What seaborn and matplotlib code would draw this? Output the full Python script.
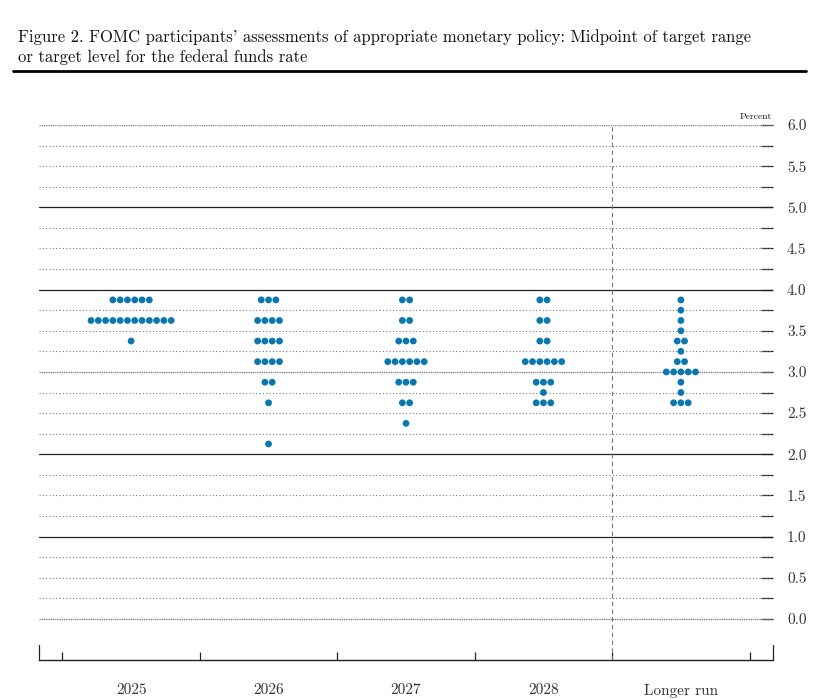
import numpy as np
import pandas as pd
import seaborn as sns
import matplotlib.pyplot as plt
from matplotlib.ticker import FixedLocator, FormatStrFormatter

# participant projections: (rate level, number of participants) per horizon
categories = ['2025', '2026', '2027', '2028', 'Longer run']
rates_2025 = [3.875, 3.625, 3.375]
counts_2025 = [6, 12, 1]
rates_2026 = [3.875, 3.625, 3.375, 3.125, 2.875, 2.625, 2.125]
counts_2026 = [3, 4, 4, 4, 2, 1, 1]
rates_2027 = [3.875, 3.625, 3.375, 3.125, 2.875, 2.625, 2.375]
counts_2027 = [2, 2, 3, 6, 3, 2, 1]
rates_2028 = [3.875, 3.625, 3.375, 3.125, 2.875, 2.75, 2.625]
counts_2028 = [2, 2, 2, 6, 3, 1, 3]
rates_lr = [3.875, 3.75, 3.625, 3.5, 3.375, 3.25, 3.125, 3.0, 2.875, 2.75, 2.625]
counts_lr = [1, 1, 1, 1, 2, 1, 2, 5, 1, 1, 3]

y_ticks = np.arange(0, 6.01, 0.5)
y_grid = np.arange(0, 6.01, 0.25)

DOT_COLOR = '#0a78ae'
DOT_STEP = 0.053


def build_frame():
    rows = []
    groups = [(rates_2025, counts_2025), (rates_2026, counts_2026),
              (rates_2027, counts_2027), (rates_2028, counts_2028),
              (rates_lr, counts_lr)]
    for i, (rates, counts) in enumerate(groups):
        for r, n in zip(rates, counts):
            for k in range(n):
                rows.append({'x': i + (k - (n - 1) / 2) * DOT_STEP, 'rate': r,
                             'horizon': categories[i]})
    return pd.DataFrame(rows)


def main():
    sns.set_theme(style='white')
    plt.rcParams['font.family'] = ['cmr10', 'DejaVu Serif']
    plt.rcParams['axes.unicode_minus'] = False
    plt.rcParams['axes.formatter.use_mathtext'] = True

    df = build_frame()
    fig = plt.figure(figsize=(8.27, 7.0), dpi=100)
    ax = fig.add_axes([39 / 827, 40 / 700, 734 / 827, 535 / 700])

    # horizontal grid: dotted every 0.25, solid at whole numbers
    for lvl in y_grid:
        if lvl in (1, 2, 4, 5):
            ax.axhline(lvl, color='#222222', lw=0.9, zorder=1)
        elif lvl in (0, 3, 6):
            ax.axhline(lvl, color='#888888', lw=1.0, ls=(0, (1, 0.6)), zorder=1)
        else:
            ax.axhline(lvl, color='#777777', lw=0.8, ls=(0, (1, 2)), zorder=1)

    ax.axvline(3.5, color='#777777', lw=0.8, ls=(0, (4, 3)), zorder=1)

    sns.scatterplot(data=df, x='x', y='rate', ax=ax, color=DOT_COLOR,
                    s=24, edgecolor='none', linewidth=0, zorder=3, legend=False)

    ax.set_xlim(-0.67, 4.67)
    ax.set_ylim(-0.5, 6.0)

    for s in ['top', 'left', 'right']:
        ax.spines[s].set_visible(False)
    ax.spines['bottom'].set_color('#222222')
    ax.spines['bottom'].set_linewidth(1.0)

    # x axis: category labels at centres, separators as minor ticks
    ax.set_xticks(range(len(categories)))
    ax.set_xticklabels(categories, fontsize=11, color='#333333')
    ax.set_xticks(np.arange(-0.5, 4.6, 1.0), minor=True)
    ax.tick_params(axis='x', which='major', length=0, pad=17)
    ax.tick_params(axis='x', which='minor', length=6, width=0.9,
                   direction='in', color='#222222', bottom=True)
    for xe in (-0.67, 4.67):
        ax.plot([xe, xe], [0, 15 / 535], transform=ax.get_xaxis_transform(),
                color='#222222', lw=0.9, clip_on=False)

    # y axis on the right
    ax.yaxis.tick_right()
    ax.set_yticks(y_ticks)
    ax.yaxis.set_major_formatter(FormatStrFormatter('%.1f'))
    ax.yaxis.set_minor_locator(FixedLocator(y_grid))
    ax.tick_params(axis='y', which='both', length=9, width=0.9, direction='in',
                   color='#222222', right=True, left=False, pad=10)
    ax.tick_params(axis='y', which='major', labelsize=11, labelcolor='#333333')
    ax.set_xlabel('')
    ax.set_ylabel('')

    ax.text(0.998, 6.05, 'Percent', transform=ax.get_yaxis_transform(),
            ha='right', va='bottom', fontsize=7, color='#111111')

    fig.text(18 / 827, 1 - 47 / 700, "Figure 2. FOMC participants' assessments of appropriate "
             "monetary policy: Midpoint of target range\nor target level for the federal funds rate",
             ha='left', va='center', fontsize=12, color='#111111', linespacing=1.3,
             family=['cmr10', 'DejaVu Serif'])
    fig.add_artist(plt.Line2D([13 / 827, 806 / 827], [1 - 71 / 700, 1 - 71 / 700],
                              color='black', lw=2.0, transform=fig.transFigure))

    fig.savefig('out.png', dpi=100)
    plt.close(fig)


if __name__ == '__main__':
    main()
